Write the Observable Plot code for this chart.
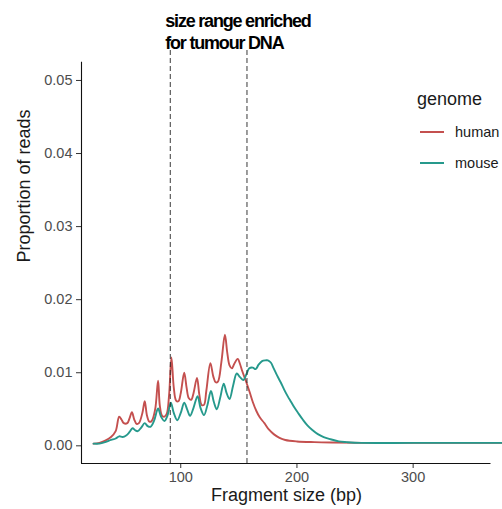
<!DOCTYPE html>
<html>
<head>
<meta charset="utf-8">
<script src="https://cdn.jsdelivr.net/npm/d3@7"></script>
<script src="https://cdn.jsdelivr.net/npm/@observablehq/plot@0.6"></script>
<style>
  html, body { margin: 0; padding: 0; background: #fff; overflow: hidden; }
  #chart svg { display: block; overflow: hidden; }
  .anno-title text { letter-spacing: -1.2px; }
</style>
</head>
<body>
<div id="chart"></div>
<script>
// ---- data ----
const genomes = ["human", "mouse"];
const genomeColors = ["#c4504f", "#26998c"];

const humanBp = [25, 30, 35, 40, 44, 47, 49, 51, 54, 56, 58, 60, 62, 64, 67, 69, 71, 73, 75, 78, 80.5, 82, 84, 86, 88, 90, 92, 94, 96, 98, 100, 103, 105, 107, 109, 111, 114, 116, 118, 120, 122, 125.5, 128, 130, 132, 135, 138, 140, 142, 144, 146, 149, 151, 153, 156, 159, 162, 165, 168, 172, 176, 180, 185, 190, 200, 215, 230, 260, 300, 340, 377];
const humanProp = [0.0003, 0.0004, 0.0007, 0.0012, 0.0020, 0.0040, 0.0036, 0.0031, 0.0031, 0.0038, 0.0046, 0.0036, 0.0030, 0.0031, 0.0045, 0.0061, 0.0041, 0.0033, 0.0034, 0.0050, 0.0089, 0.0055, 0.0041, 0.0040, 0.0044, 0.0070, 0.0121, 0.0080, 0.0062, 0.0061, 0.0072, 0.0100, 0.0080, 0.0065, 0.0063, 0.0072, 0.0093, 0.0070, 0.0056, 0.0056, 0.0075, 0.0113, 0.0095, 0.0087, 0.0088, 0.0115, 0.0152, 0.0128, 0.0110, 0.0106, 0.0112, 0.0119, 0.0112, 0.0102, 0.0089, 0.0075, 0.0060, 0.0048, 0.0039, 0.0031, 0.0022, 0.0016, 0.0011, 0.0008, 0.0006, 0.0005, 0.00045, 0.0004, 0.0004, 0.0004, 0.0004];

const mouseBp = [25, 30, 35, 40, 44, 47, 50, 53, 56, 58.5, 61, 63, 66, 69, 71.5, 74, 77, 80.5, 83, 86, 88.5, 91.5, 94, 97, 100, 103, 105.5, 108, 111, 114.5, 117, 120, 123, 126, 128.5, 131, 134, 137, 139.5, 142, 145, 148.2, 151, 154, 156.5, 159, 162, 164.5, 167, 170, 173, 175, 177.5, 180, 183, 186, 189, 192, 195, 198, 201, 205, 209, 213, 218, 223, 229, 236, 243, 255, 300, 377];
const mouseProp = [0.0003, 0.0003, 0.0005, 0.0008, 0.0010, 0.0013, 0.0012, 0.0014, 0.0019, 0.0024, 0.0021, 0.0020, 0.0025, 0.0031, 0.0027, 0.0026, 0.0034, 0.0051, 0.0040, 0.0034, 0.0041, 0.0059, 0.0045, 0.0035, 0.0045, 0.0059, 0.0050, 0.0041, 0.0052, 0.0068, 0.0052, 0.0042, 0.0056, 0.0075, 0.0060, 0.0050, 0.0066, 0.0085, 0.0072, 0.0064, 0.0082, 0.0099, 0.0094, 0.0090, 0.0098, 0.0106, 0.0107, 0.0105, 0.0111, 0.0116, 0.0117, 0.0117, 0.0114, 0.0106, 0.0096, 0.0087, 0.0077, 0.0068, 0.0060, 0.0052, 0.0045, 0.0036, 0.0028, 0.0022, 0.0016, 0.0012, 0.0009, 0.0006, 0.0005, 0.0004, 0.0004, 0.0004];

const cutoffs = [91, 157];
const annotationLines = ["size range enriched", "for tumour DNA"];
const xTicks = [100, 200, 300];
const yTicks = [0, 0.01, 0.02, 0.03, 0.04, 0.05];
const xLabel = "Fragment size (bp)";
const yLabel = "Proportion of reads";
const legendTitle = "genome";

// scale extents
const xDomain = [14.6, 376.9];
const xAxisEnd = 367;
const yDomain = [-0.00242, 0.0541];
const yAxisTop = 0.0525;

// ---- table ----
const rows = [
  ...humanBp.map((bp, i) => ({genome: "human", bp, prop: humanProp[i]})),
  ...mouseBp.map((bp, i) => ({genome: "mouse", bp, prop: mouseProp[i]}))
];

const font = "'Liberation Sans', Arial, Helvetica, sans-serif";

const chart = Plot.plot({
  width: 502,
  height: 509,
  marginLeft: 81,
  marginRight: 0,
  marginTop: 50,
  marginBottom: 46,
  style: {fontFamily: font, fontSize: "14.5px", color: "#333", background: "#fff"},
  x: {domain: xDomain},
  y: {domain: yDomain},
  color: {domain: genomes, range: genomeColors},
  marks: [
    Plot.axisX({ticks: xTicks, tickSize: 5, tickPadding: 3, label: null, fontSize: 14.5, fill: "#4d4d4d", stroke: "#333"}),
    Plot.axisY({ticks: yTicks, tickFormat: d3.format(".2f"), tickSize: 5, tickPadding: 4, label: null, fontSize: 14.5, fill: "#4d4d4d", stroke: "#333"}),
    Plot.ruleX([xDomain[0]], {y1: yDomain[0], y2: yAxisTop, stroke: "#111", strokeWidth: 1.1}),
    Plot.ruleY([yDomain[0]], {x1: xDomain[0], x2: xAxisEnd, stroke: "#111", strokeWidth: 1.1}),
    Plot.line(rows, {x: "bp", y: "prop", z: "genome", stroke: "genome", curve: "catmull-rom", strokeWidth: 1.9}),
    Plot.ruleX(cutoffs, {y1: yDomain[0], y2: yDomain[1], stroke: "#222", strokeWidth: 0.9, strokeDasharray: "5,3"}),
    Plot.text([annotationLines.join("\n")], {
      x: cutoffs[0], frameAnchor: "top", textAnchor: "start", lineAnchor: "top",
      dx: -5, dy: -38, lineHeight: 1.17, fontSize: 18, fontWeight: "bold",
      fill: "#000", className: "anno-title"
    }),
    Plot.text([xLabel], {frameAnchor: "bottom", lineAnchor: "middle", dx: -5.5, dy: 32, fontSize: 18, fill: "#1a1a1a"}),
    Plot.text([yLabel], {frameAnchor: "left", lineAnchor: "middle", rotate: -90, dx: -57, dy: 5.5, fontSize: 18, fill: "#1a1a1a"})
  ]
});

// legend (decoration, colours taken from the plot's colour scale)
const color = chart.scale("color");
const svg = d3.select(chart);
svg.selectAll(".anno-title text").style("letter-spacing", "-1.2px");
const lg = svg.append("g").attr("font-family", font).attr("text-anchor", "start");
lg.append("text").attr("x", 417).attr("y", 105).attr("font-size", 18).attr("fill", "#1a1a1a").text(legendTitle);
genomes.forEach((g, i) => {
  const yy = 132 + i * 31;
  lg.append("line").attr("x1", 420).attr("x2", 444).attr("y1", yy).attr("y2", yy)
    .attr("stroke", color.apply(g)).attr("stroke-width", 2);
  lg.append("text").attr("x", 455).attr("y", yy).attr("dy", "0.35em").attr("font-size", 14.5)
    .attr("fill", "#1a1a1a").text(g);
});

document.getElementById("chart").appendChild(chart);
</script>
</body>
</html>
